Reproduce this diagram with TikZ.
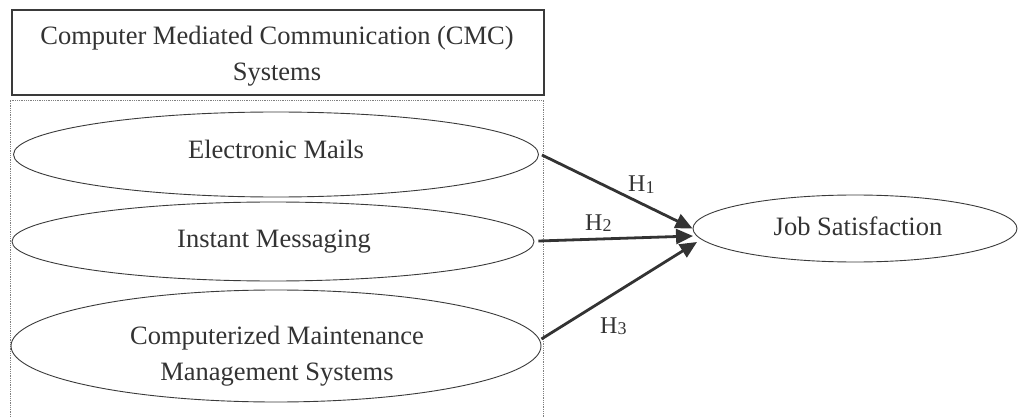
\documentclass[tikz,border=0pt]{standalone}
\usepackage{fontspec}
\setmainfont{Liberation Serif}
\usetikzlibrary{shapes.geometric,arrows.meta,calc}

\definecolor{ink}{HTML}{333333}
\definecolor{edge}{HTML}{3A3A3A}

\tikzset{
  txt/.style={font=\fontsize{26.5}{36}\selectfont, text=ink, inner sep=0pt},
  hlab/.style={font=\fontsize{24}{26}\selectfont, text=ink, inner sep=0pt, anchor=base west},
  oval/.style={ellipse, draw=edge, line width=0.9pt, inner sep=0pt},
  titlebox/.style={draw=edge, line width=1.2pt, inner sep=0pt},
  groupbox/.style={draw=gray, line width=0.6pt, dash pattern=on 1pt off 0.8pt},
  link/.style={draw=ink, line width=2.8pt, -{Triangle[length=17pt,width=15pt]}}
}
\newcommand{\hyp}[1]{H\raisebox{-1.5pt}{\fontsize{18}{18}\selectfont #1}}

\begin{document}
\begin{tikzpicture}[x=1pt,y=-1pt]
  \useasboundingbox (0,0) rectangle (1018,417);

  % heading box
  \node[titlebox, minimum width=532pt, minimum height=85pt] (head) at (278,52.5) {};
  \node[txt, align=center] (headtxt) at (277,56.3)
    {Computer Mediated Communication (CMC)\\Systems};

  % dotted group frame (runs off the lower edge)
  \draw[groupbox] (10,417) -- (10,100) -- (543,100) -- (543,417);

  % the three CMC systems
  \node[oval, minimum width=525pt, minimum height=85pt] (ee) at (276,154.5) {};
  \node[txt, anchor=base] (eetxt) at (276,158.6) {Electronic Mails};

  \node[oval, minimum width=522pt, minimum height=79pt] (im) at (273,241.5) {};
  \node[txt, anchor=base] (imtxt) at (274,247) {Instant Messaging};

  \node[oval, minimum width=530pt, minimum height=112pt] (cm) at (276,346) {};
  \node[txt, align=center] (cmtxt) at (277,356)
    {Computerized Maintenance\\Management Systems};

  % outcome
  \node[oval, minimum width=324pt, minimum height=67pt] (js) at (855,228.5) {};
  \node[txt, anchor=base] (jstxt) at (858,236) {Job Satisfaction};

  % hypothesised paths
  \draw[link] ($(ee.east)+(3,0.5)$) -- (js.west);
  \draw[link] ($(im.east)+(4,-0.5)$) -- ($(js.west)+(0.5,7.5)$);
  \draw[link] ($(cm.east)+(0,-7)$) -- ($(js.west)+(4.5,13.5)$);

  \node[hlab] (h1) at (628,191.7) {\hyp{1}};
  \node[hlab] (h2) at (585,230) {\hyp{2}};
  \node[hlab] (h3) at (600,333) {\hyp{3}};
\end{tikzpicture}
\end{document}
